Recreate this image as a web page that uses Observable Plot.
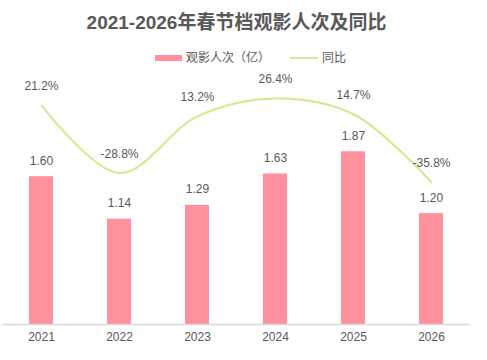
<!DOCTYPE html>
<html>
<head>
<meta charset="utf-8">
<script src="https://cdn.jsdelivr.net/npm/d3@7"></script>
<script src="https://cdn.jsdelivr.net/npm/@observablehq/plot@0.6"></script>
<style>
  html, body { margin: 0; padding: 0; background: #fff; }
  body { width: 487px; height: 360px; overflow: hidden; font-family: "Liberation Sans", "Noto Sans CJK SC", sans-serif; color: #595959; }
  #title { height: 46px; line-height: 46px; font-size: 19px; font-weight: bold; text-align: center; padding-right: 14px; }
  #legend { position: relative; height: 24px; font-size: 12px; }
  .sw-bar { position: absolute; left: 155px; top: 9px; width: 27px; height: 6px; background: #FF919F; }
  .lb1 { position: absolute; left: 186px; top: 4px; line-height: 16px; }
  .sw-line { position: absolute; left: 290px; top: 11px; width: 28px; height: 2px; background: #DCE58A; }
  .lb2 { position: absolute; left: 322px; top: 4px; line-height: 16px; }
</style>
</head>
<body>
<div id="title">2021-2026年春节档观影人次及同比</div>
<div id="legend">
  <span class="sw-bar"></span><span class="lb1">观影人次（亿）</span>
  <span class="sw-line"></span><span class="lb2">同比</span>
</div>
<div id="chart"></div>
<script>
const years = ["2021", "2022", "2023", "2024", "2025", "2026"];
const admissions = [1.60, 1.14, 1.29, 1.63, 1.87, 1.20];
const yoy = [21.2, -28.8, 13.2, 26.4, 14.7, -35.8];

// secondary (hidden) axis for 同比, mapped into the primary y units
const y2 = d3.scaleLinear().domain([-40, 30]).range([1.476, 2.500]);

const data = years.map((yr, i) => ({year: yr, value: admissions[i], pct: yoy[i], py: y2(yoy[i])}));

const font = "Liberation Sans, Noto Sans CJK SC, sans-serif";

const chart = Plot.plot({
  width: 487,
  height: 290,
  marginLeft: 2,
  marginRight: 17,
  marginTop: 0,
  marginBottom: 36,
  style: {fontFamily: font, color: "#595959", background: "transparent", overflow: "visible"},
  x: {domain: years, padding: 0.69, paddingOuter: 0.345, label: null, tickSize: 0, tickPadding: 8},
  y: {domain: [0, 2.75], axis: null},
  marks: [
    Plot.barY(data, {x: "year", y: "value", fill: "#FF919F"}),
    Plot.ruleY([0], {stroke: "#D9D9D9", strokeWidth: 1.5}),
    Plot.line(data, {x: "year", y: "py", stroke: "#DCE58A", strokeWidth: 2, curve: "catmull-rom"}),
    Plot.text(data, {x: "year", y: "value", text: d => d.value.toFixed(2), dy: -16, fontSize: 12, fill: "#595959"}),
    Plot.text(data, {x: "year", y: "py", text: d => d.pct.toFixed(1) + "%", dy: -19, fontSize: 12, fill: "#595959"}),
    Plot.axisX({tickSize: 0, tickPadding: 8, fontSize: 12, fill: "#595959", label: null})
  ]
});
chart.querySelectorAll("text").forEach(t => t.style.fontSize = t.style.fontSize || "12px");
document.getElementById("chart").appendChild(chart);
</script>
</body>
</html>
